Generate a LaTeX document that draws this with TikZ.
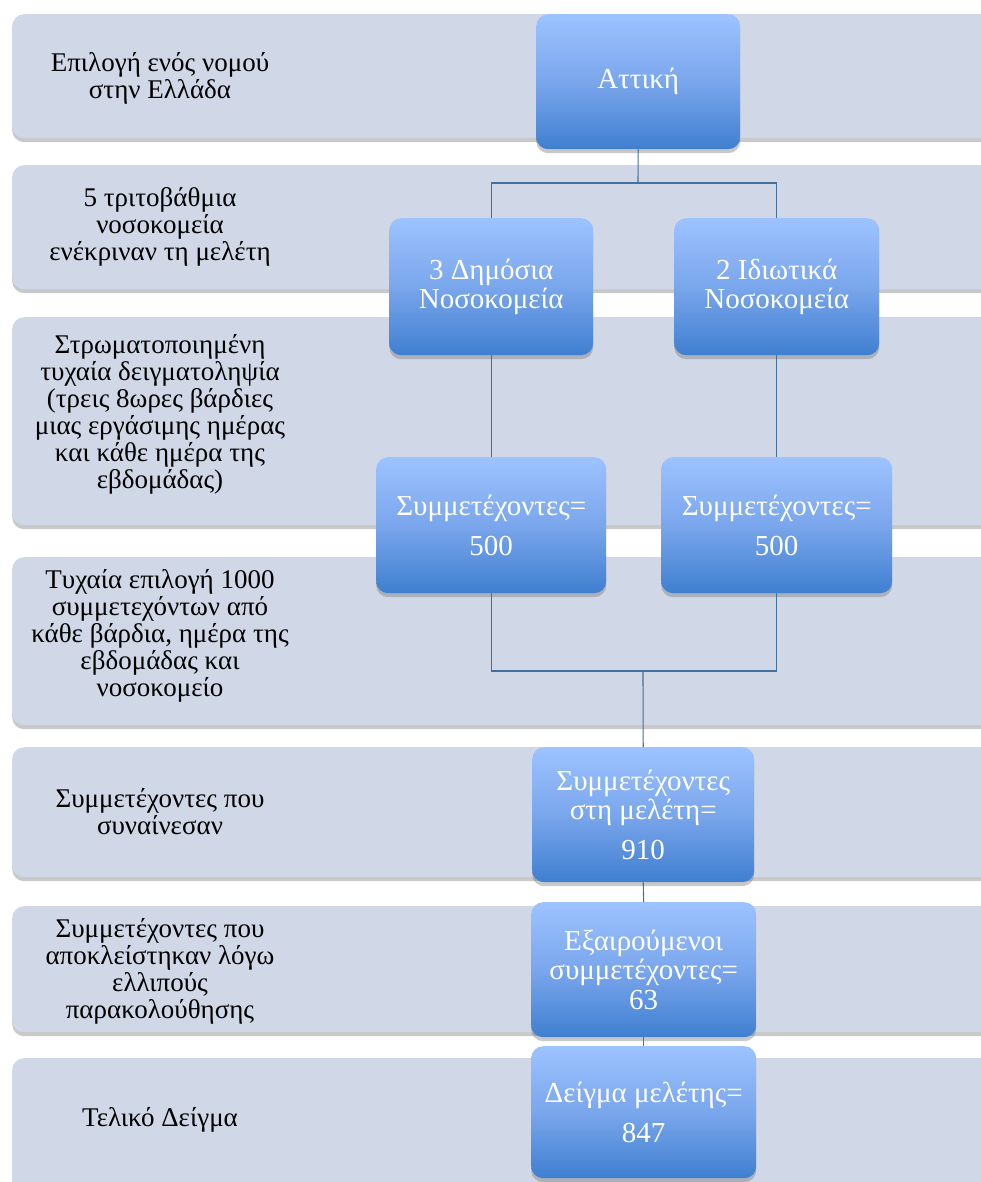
\documentclass[tikz,border=0pt]{standalone}
\usepackage{fontspec}
\setmainfont{Liberation Serif}
\usetikzlibrary{shadows}
\definecolor{bandfill}{HTML}{D0D8E7}
\definecolor{boxtop}{HTML}{9DC3FF}
\definecolor{boxmid}{HTML}{7AA6EC}
\definecolor{boxbot}{HTML}{3F7FD0}
\definecolor{linecol}{HTML}{41719C}
\begin{document}
\begin{tikzpicture}[x=1pt,y=-1pt,
  band/.style={fill=bandfill, rounded corners=12pt, anchor=north west, inner sep=0pt,
    drop shadow={shadow xshift=0pt, shadow yshift=-4pt, opacity=0.35, fill=black!60}},
  lefttext/.style={align=center, font=\fontsize{27}{27}\selectfont, text=black, inner sep=0pt},
  bluebox/.style={rounded corners=12pt, anchor=north west, inner sep=0pt, align=center,
    top color=boxtop, bottom color=boxbot, middle color=boxmid,
    text=white, font=\fontsize{29}{29.5}\selectfont,
    drop shadow={shadow xshift=0pt, shadow yshift=-4pt, opacity=0.35, fill=black!60}},
  conn/.style={draw=linecol, line width=1.1pt}]
\useasboundingbox (0,0) rectangle (981,1182);
\clip (0,0) rectangle (981,1182);
\fill[white] (0,0) rectangle (981,1182);
% bands
\node[band, minimum width=990pt, minimum height=124pt] (b1) at (12,14) {};
\node[band, minimum width=990pt, minimum height=124pt] (b2) at (12,165) {};
\node[band, minimum width=990pt, minimum height=208pt] (b3) at (12,317) {};
\node[band, minimum width=990pt, minimum height=168pt] (b4) at (12,557) {};
\node[band, minimum width=990pt, minimum height=130pt] (b5) at (12,747) {};
\node[band, minimum width=990pt, minimum height=126pt] (b6) at (12,906) {};
\node[band, minimum width=990pt, minimum height=140pt] (b7) at (12,1058) {};
% left texts
\node[lefttext] (t1) at (160,78) {Επιλογή ενός νομού\\στην Ελλάδα};
\node[lefttext] (t2) at (160,227) {5 τριτοβάθμια\\νοσοκομεία\\ενέκριναν τη μελέτη};
\node[lefttext] (t3) at (160,414) {Στρωματοποιημένη\\τυχαία δειγματοληψία\\(τρεις 8ωρες βάρδιες\\μιας εργάσιμης ημέρας\\και κάθε ημέρα της\\εβδομάδας)};
\node[lefttext] (t4) at (160,636) {Τυχαία επιλογή 1000\\συμμετεχόντων από\\κάθε βάρδια, ημέρα της\\εβδομάδας και\\νοσοκομείο};
\node[lefttext] (t5) at (160,812) {Συμμετέχοντες που\\συναίνεσαν};
\node[lefttext] (t6) at (160,971) {Συμμετέχοντες που\\αποκλείστηκαν λόγω\\ελλιπούς\\παρακολούθησης};
\node[lefttext] (t7) at (160,1120) {Τελικό Δείγμα};
% blue boxes
\node[bluebox, minimum width=204pt, minimum height=135pt] (att) at (536,14) {Αττική};
\node[bluebox, minimum width=204pt, minimum height=137pt] (dim) at (389,218) {3 Δημόσια\\Νοσοκομεία};
\node[bluebox, minimum width=205pt, minimum height=137pt] (idi) at (674,218) {2 Ιδιωτικά\\Νοσοκομεία};
\node[bluebox, minimum width=230pt, minimum height=136pt] (s1) at (376,457) {Συμμετέχοντες=\\[10pt]500};
\node[bluebox, minimum width=231pt, minimum height=136pt] (s2) at (661,457) {Συμμετέχοντες=\\[10pt]500};
\node[bluebox, minimum width=222pt, minimum height=135pt] (p910) at (532,747) {Συμμετέχοντες\\στη μελέτη=\\[10pt]910};
\node[bluebox, minimum width=225pt, minimum height=135pt] (ex) at (531,902) {Εξαιρούμενοι\\συμμετέχοντες=\\63};
\node[bluebox, minimum width=225pt, minimum height=132pt] (fin) at (531,1046) {Δείγμα μελέτης=\\[10pt]847};
% connectors
\coordinate (j1) at (638,183);
\coordinate (j2) at (643,671);
\draw[conn] (att.south) -- (j1);
\draw[conn] (j1) -| (dim.north);
\draw[conn] (j1) -| (idi.north);
\draw[conn] (dim.south) -- (s1.north);
\draw[conn] (idi.south) -- (s2.north);
\draw[conn] (s1.south) |- (j2);
\draw[conn] (s2.south) |- (j2);
\draw[conn] (j2) -- (p910.north);
\draw[conn] (p910.south) -- (ex.north);
\draw[conn] (ex.south) -- (fin.north);
\end{tikzpicture}
\end{document}
